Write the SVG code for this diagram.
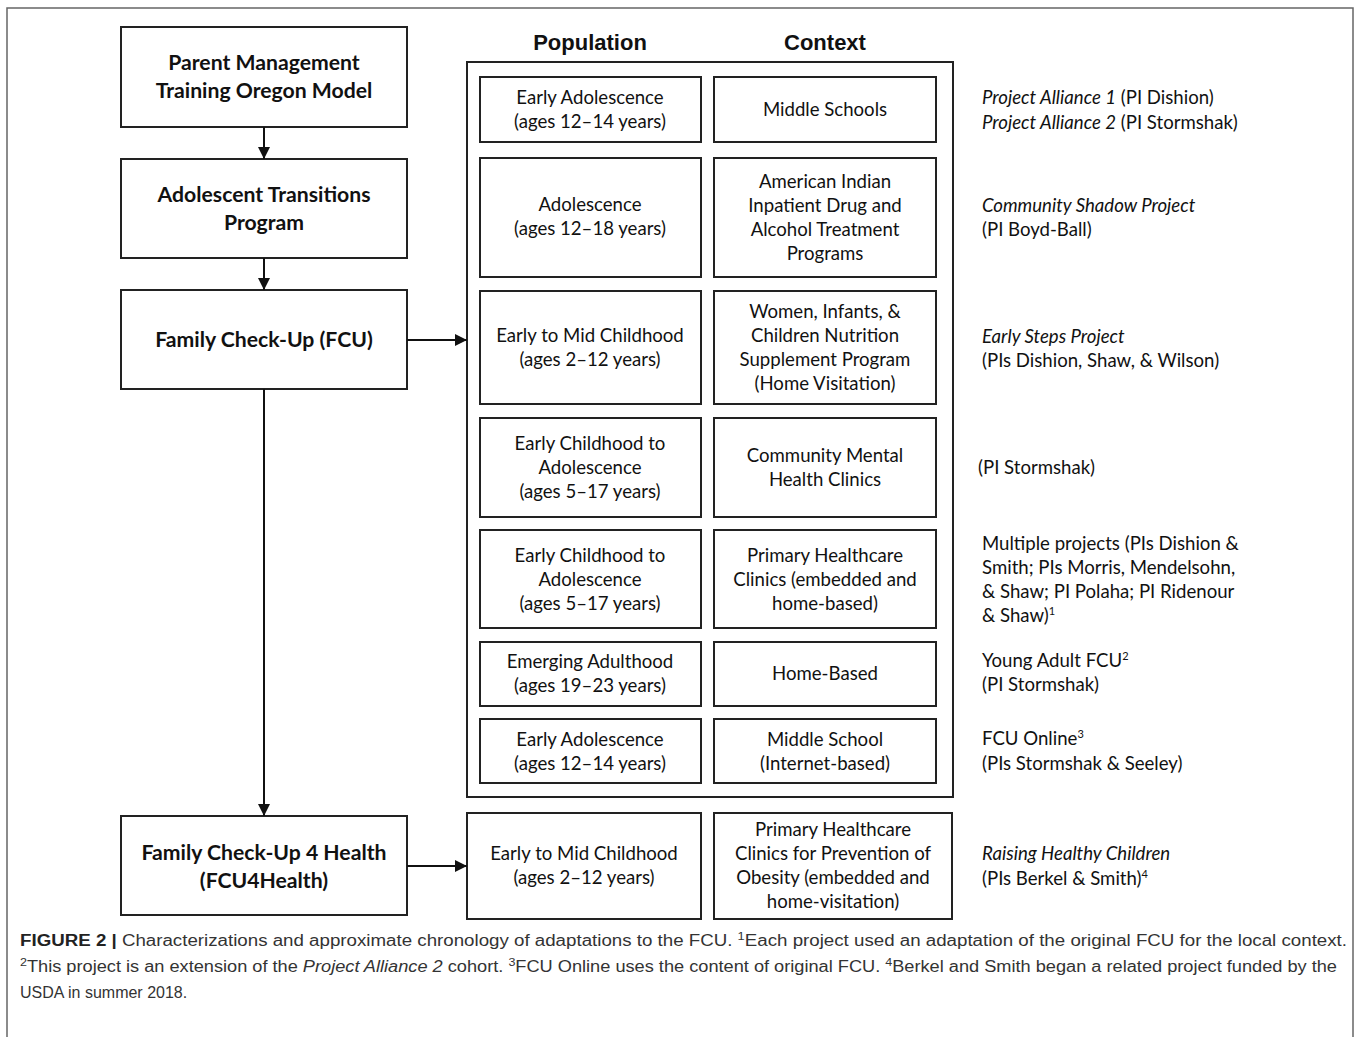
<svg xmlns="http://www.w3.org/2000/svg" width="1358" height="1037" viewBox="0 0 1358 1037">
<style>
.frame{fill:none;stroke:#666;stroke-width:1.5}
.box{fill:#fff;stroke:#222;stroke-width:2}
.cont{fill:none;stroke:#222;stroke-width:2}
.lbl{font-family:Lato,"Liberation Sans",sans-serif;font-size:18.6px;fill:#111;text-anchor:middle}
.bl{font-family:Lato,"Liberation Sans",sans-serif;font-size:21.2px;font-weight:bold;fill:#111;text-anchor:middle}
.hd{font-family:"Liberation Sans",Arial,sans-serif;font-size:22px;font-weight:bold;fill:#111;text-anchor:middle}
.rt{font-family:Lato,"Liberation Sans",sans-serif;font-size:18.6px;fill:#111}
.it{font-style:italic}
.cap{font-family:"Liberation Sans",Arial,sans-serif;font-size:16px;fill:#333}
.conn{fill:none;stroke:#111;stroke-width:2}
</style>
<defs>
<marker id="ah" viewBox="0 0 12 12" refX="12" refY="6" markerWidth="12" markerHeight="12" markerUnits="userSpaceOnUse" orient="auto">
<path d="M0,0 L12,6 L0,12 Z" fill="#111"/>
</marker>
</defs>
<rect width="1358" height="1037" fill="#fff"/>
<path class="frame" d="M7,1040 V8 H1353 V1040"/>

<text class="hd" x="590" y="50">Population</text>
<text class="hd" x="825" y="50">Context</text>

<g id="pmto"><rect class="box" x="121" y="27" width="286" height="100"/>
<text class="bl" x="264" y="70">Parent Management</text><text class="bl" x="264" y="98">Training Oregon Model</text></g>
<g id="atp"><rect class="box" x="121" y="159" width="286" height="99"/>
<text class="bl" x="264" y="202">Adolescent Transitions</text><text class="bl" x="264" y="230">Program</text></g>
<g id="fcu"><rect class="box" x="121" y="290" width="286" height="99"/>
<text class="bl" x="264" y="347">Family Check-Up (FCU)</text></g>
<g id="fcu4h"><rect class="box" x="121" y="816" width="286" height="99"/>
<text class="bl" x="264" y="860">Family Check-Up 4 Health</text><text class="bl" x="264" y="888">(FCU4Health)</text></g>

<g id="container"><rect class="cont" x="467" y="62" width="486" height="735"/></g>

<g id="r1"><rect class="box" x="480" y="77" width="221" height="65"/><text class="lbl" x="590" y="104">Early Adolescence</text><text class="lbl" x="590" y="128">(ages 12–14 years)</text>
<rect class="box" x="714" y="77" width="222" height="65"/><text class="lbl" x="825" y="116">Middle Schools</text></g>

<g id="r2"><rect class="box" x="480" y="158" width="221" height="119"/><text class="lbl" x="590" y="211">Adolescence</text><text class="lbl" x="590" y="235">(ages 12–18 years)</text>
<rect class="box" x="714" y="158" width="222" height="119"/><text class="lbl" x="825" y="188">American Indian</text><text class="lbl" x="825" y="212">Inpatient Drug and</text><text class="lbl" x="825" y="236">Alcohol Treatment</text><text class="lbl" x="825" y="260">Programs</text></g>

<g id="r3"><rect class="box" x="480" y="291" width="221" height="113"/><text class="lbl" x="590" y="342">Early to Mid Childhood</text><text class="lbl" x="590" y="366">(ages 2–12 years)</text>
<rect class="box" x="714" y="291" width="222" height="113"/><text class="lbl" x="825" y="318">Women, Infants, &amp;</text><text class="lbl" x="825" y="342">Children Nutrition</text><text class="lbl" x="825" y="366">Supplement Program</text><text class="lbl" x="825" y="390">(Home Visitation)</text></g>

<g id="r4"><rect class="box" x="480" y="418" width="221" height="99"/><text class="lbl" x="590" y="450">Early Childhood to</text><text class="lbl" x="590" y="474">Adolescence</text><text class="lbl" x="590" y="498">(ages 5–17 years)</text>
<rect class="box" x="714" y="418" width="222" height="99"/><text class="lbl" x="825" y="462">Community Mental</text><text class="lbl" x="825" y="486">Health Clinics</text></g>

<g id="r5"><rect class="box" x="480" y="530" width="221" height="98"/><text class="lbl" x="590" y="562">Early Childhood to</text><text class="lbl" x="590" y="586">Adolescence</text><text class="lbl" x="590" y="610">(ages 5–17 years)</text>
<rect class="box" x="714" y="530" width="222" height="98"/><text class="lbl" x="825" y="562">Primary Healthcare</text><text class="lbl" x="825" y="586">Clinics (embedded and</text><text class="lbl" x="825" y="610">home-based)</text></g>

<g id="r6"><rect class="box" x="480" y="642" width="221" height="64"/><text class="lbl" x="590" y="668">Emerging Adulthood</text><text class="lbl" x="590" y="692">(ages 19–23 years)</text>
<rect class="box" x="714" y="642" width="222" height="64"/><text class="lbl" x="825" y="680">Home-Based</text></g>

<g id="r7"><rect class="box" x="480" y="719" width="221" height="64"/><text class="lbl" x="590" y="746">Early Adolescence</text><text class="lbl" x="590" y="770">(ages 12–14 years)</text>
<rect class="box" x="714" y="719" width="222" height="64"/><text class="lbl" x="825" y="746">Middle School</text><text class="lbl" x="825" y="770">(Internet-based)</text></g>

<g id="r8"><rect class="box" x="467" y="813" width="234" height="106"/><text class="lbl" x="584" y="860">Early to Mid Childhood</text><text class="lbl" x="584" y="884">(ages 2–12 years)</text>
<rect class="box" x="714" y="813" width="238" height="106"/><text class="lbl" x="833" y="836">Primary Healthcare</text><text class="lbl" x="833" y="860">Clinics for Prevention of</text><text class="lbl" x="833" y="884">Obesity (embedded and</text><text class="lbl" x="833" y="908">home-visitation)</text></g>

<g id="projects">
<text class="rt" x="982" y="104"><tspan class="it">Project Alliance 1</tspan> (PI Dishion)</text>
<text class="rt" x="982" y="129"><tspan class="it">Project Alliance 2</tspan> (PI Stormshak)</text>
<text class="rt it" x="982" y="212">Community Shadow Project</text>
<text class="rt" x="982" y="236">(PI Boyd-Ball)</text>
<text class="rt it" x="982" y="343">Early Steps Project</text>
<text class="rt" x="982" y="367">(PIs Dishion, Shaw, &amp; Wilson)</text>
<text class="rt" x="978" y="474">(PI Stormshak)</text>
<text class="rt" x="982" y="550">Multiple projects (PIs Dishion &amp;</text>
<text class="rt" x="982" y="574">Smith; PIs Morris, Mendelsohn,</text>
<text class="rt" x="982" y="598">&amp; Shaw; PI Polaha; PI Ridenour</text>
<text class="rt" x="982" y="622">&amp; Shaw)<tspan font-size="11" dy="-7">1</tspan></text>
<text class="rt" x="982" y="667">Young Adult FCU<tspan font-size="11" dy="-7">2</tspan></text>
<text class="rt" x="982" y="691">(PI Stormshak)</text>
<text class="rt" x="982" y="745">FCU Online<tspan font-size="11" dy="-7">3</tspan></text>
<text class="rt" x="982" y="770">(PIs Stormshak &amp; Seeley)</text>
<text class="rt it" x="982" y="860">Raising Healthy Children</text>
<text class="rt" x="982" y="885">(PIs Berkel &amp; Smith)<tspan font-size="11" dy="-7">4</tspan></text>
</g>

<g id="connectors">
<line class="conn" x1="264" y1="127" x2="264" y2="159" marker-end="url(#ah)"/>
<line class="conn" x1="264" y1="258" x2="264" y2="290" marker-end="url(#ah)"/>
<line class="conn" x1="407" y1="340" x2="467" y2="340" marker-end="url(#ah)"/>
<line class="conn" x1="264" y1="389" x2="264" y2="816" marker-end="url(#ah)"/>
<line class="conn" x1="407" y1="866" x2="467" y2="866" marker-end="url(#ah)"/>
</g>

<g id="caption">
<text class="cap" x="20" y="946" textLength="1327" lengthAdjust="spacingAndGlyphs"><tspan font-weight="bold" fill="#222">FIGURE 2 |</tspan> Characterizations and approximate chronology of adaptations to the FCU. <tspan font-size="11" dy="-6">1</tspan><tspan dy="6">Each project used an adaptation of the original FCU for the local context.</tspan></text>
<text class="cap" x="20" y="972" textLength="1317" lengthAdjust="spacingAndGlyphs"><tspan font-size="11" dy="-6">2</tspan><tspan dy="6">This project is an extension of the </tspan><tspan class="it">Project Alliance 2</tspan> cohort. <tspan font-size="11" dy="-6">3</tspan><tspan dy="6">FCU Online uses the content of original FCU. </tspan><tspan font-size="11" dy="-6">4</tspan><tspan dy="6">Berkel and Smith began a related project funded by the</tspan></text>
<text class="cap" x="20" y="998">USDA in summer 2018.</text>
</g>
</svg>
